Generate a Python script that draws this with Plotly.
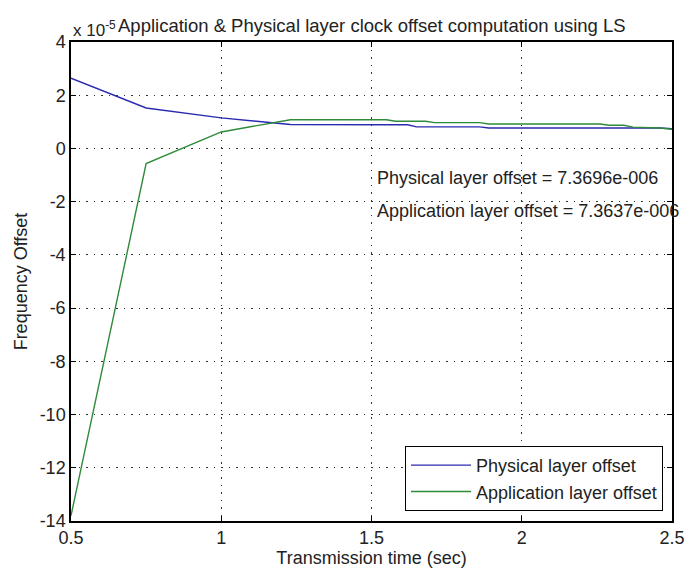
import plotly.graph_objects as go

# Data (values in units of 1e-5)
time_sec = [0.5, 0.75, 1.0, 1.23, 1.55, 1.58, 1.62, 1.65, 1.68, 1.71, 1.86, 1.89, 2.26, 2.29, 2.34, 2.37, 2.46, 2.5]
physical = [2.64, 1.52, 1.15, 0.90, 0.89, 0.89, 0.89, 0.81, 0.81, 0.81, 0.81, 0.77, 0.77, 0.77, 0.77, 0.78, 0.77, 0.74]
application = [-13.8, -0.57, 0.62, 1.08, 1.08, 1.02, 1.02, 1.02, 1.02, 0.97, 0.97, 0.92, 0.92, 0.87, 0.87, 0.80, 0.77, 0.72]

x_ticks = [0.5, 1, 1.5, 2, 2.5]
x_tick_labels = ["0.5", "1", "1.5", "2", "2.5"]
y_ticks = [4, 2, 0, -2, -4, -6, -8, -10, -12, -14]
y_tick_labels = ["4", "2", "0", "-2", "-4", "-6", "-8", "-10", "-12", "-14"]

title_text = "Application & Physical layer clock offset computation using LS"
exp_text = "x 10<sup>-5</sup>"
note_phys = "Physical layer offset = 7.3696e-006"
note_app = "Application layer offset = 7.3637e-006"

FONT = "Liberation Sans, Arial, sans-serif"
TXT = "#222222"

fig = go.Figure()
fig.add_trace(go.Scatter(x=time_sec, y=physical, mode="lines", name="Physical layer offset",
                         line=dict(color="#2a2ab0", width=1.4)))
fig.add_trace(go.Scatter(x=time_sec, y=application, mode="lines", name="Application layer offset",
                         line=dict(color="#2f8a3a", width=1.4)))

axis_common = dict(showline=True, linecolor="black", linewidth=1.5, mirror="ticks",
                   ticks="inside", ticklen=5, tickcolor="black", tickwidth=1,
                   showgrid=True, gridcolor="#333333", gridwidth=1, griddash="1.5px,6px",
                   zeroline=False, tickfont=dict(family=FONT, size=18, color=TXT))

fig.update_xaxes(range=[0.5, 2.5], tickvals=x_ticks, ticktext=x_tick_labels,
                 title=dict(text="Transmission time (sec)", font=dict(family=FONT, size=18, color=TXT), standoff=4),
                 **axis_common)
fig.update_yaxes(range=[-14, 4], tickvals=y_ticks, ticktext=y_tick_labels,
                 title=dict(text="Frequency Offset", font=dict(family=FONT, size=18, color=TXT), standoff=7),
                 **axis_common)

fig.add_annotation(x=1.51, y=-1.12, xref="x", yref="y", text=note_phys, showarrow=False,
                   xanchor="left", yanchor="middle", font=dict(family=FONT, size=18, color=TXT))
fig.add_annotation(x=1.51, y=-2.36, xref="x", yref="y", text=note_app, showarrow=False,
                   xanchor="left", yanchor="middle", font=dict(family=FONT, size=18, color=TXT))
fig.add_annotation(x=0, y=1, xref="paper", yref="paper", text=exp_text, showarrow=False,
                   xanchor="left", yanchor="bottom", yshift=0, font=dict(family=FONT, size=17, color=TXT))
fig.add_annotation(x=0.5, y=1, xref="paper", yref="paper", text=title_text, showarrow=False,
                   xanchor="center", yanchor="bottom", yshift=4, font=dict(family=FONT, size=18.5, color=TXT))

fig.update_layout(
    width=696, height=576,
    margin=dict(l=71, r=11, t=42, b=53),
    paper_bgcolor="white", plot_bgcolor="white",
    showlegend=True,
    legend=dict(x=0.985, y=0.021, xanchor="right", yanchor="bottom",
                bgcolor="white", bordercolor="black", borderwidth=1,
                font=dict(family=FONT, size=18, color=TXT), itemwidth=60,
                tracegroupgap=0),
)

fig.write_html("out.html")
